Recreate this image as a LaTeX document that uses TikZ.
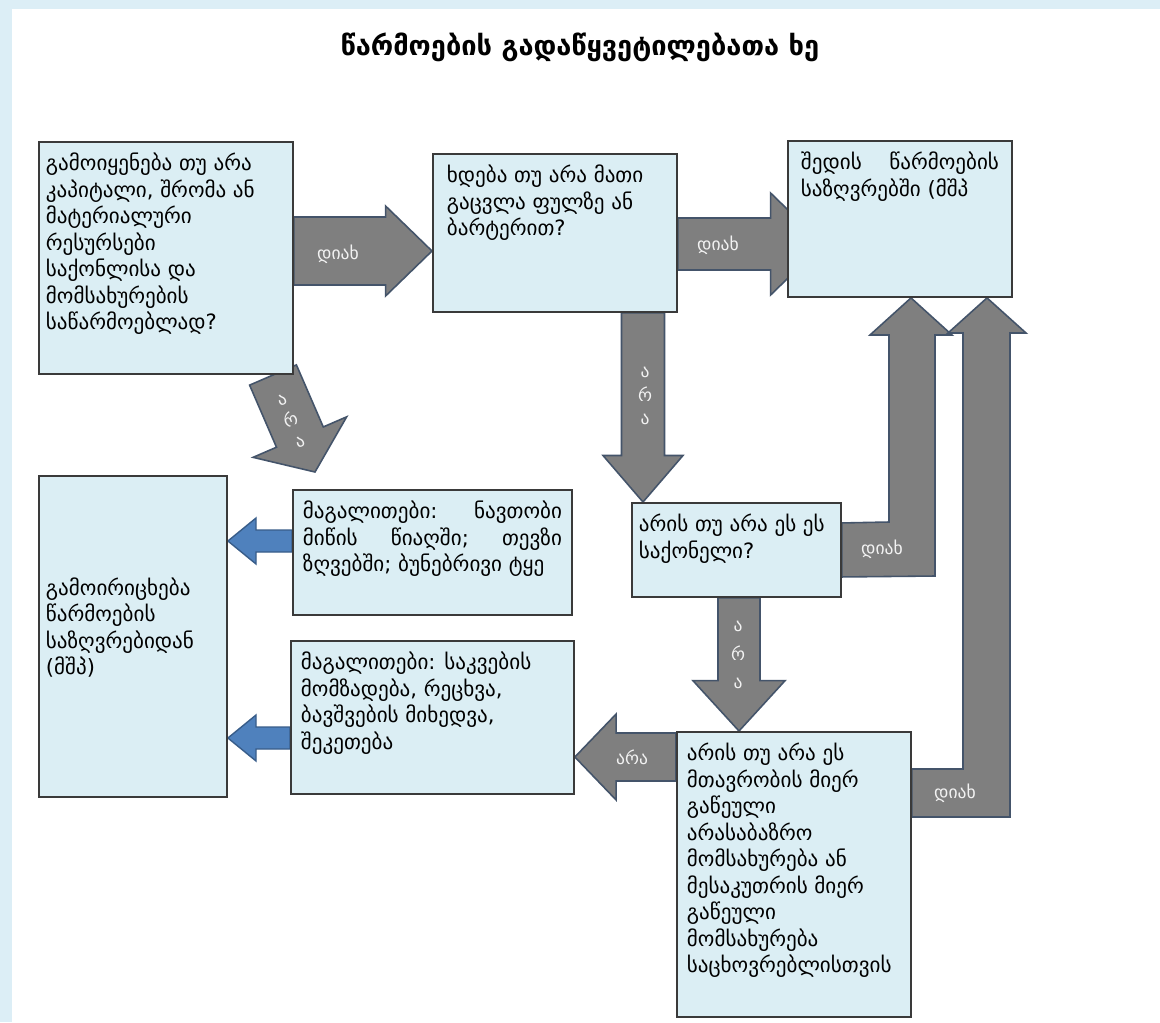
\documentclass[tikz,border=0pt]{standalone}
\usepackage{fontspec}
\newfontfamily\geo{DejaVu Sans}
\usetikzlibrary{calc, backgrounds}

\definecolor{framebg}{HTML}{DCEEF6}
\definecolor{boxfill}{HTML}{DBEEF4}
\definecolor{boxline}{HTML}{3A3A3A}
\definecolor{arrowfill}{HTML}{7F7F7F}
\definecolor{arrowline}{HTML}{44546A}
\definecolor{bluefill}{HTML}{4F81BD}
\definecolor{blueline}{HTML}{385D8A}
\definecolor{labeltext}{HTML}{F2F2F2}

% block arrow: style, from, to, shaft half width, head half width, where the head starts (fraction)
\newcommand{\flowarrow}[6]{%
  \coordinate (fa-h) at ($(#2)!#6!(#3)$);
  \filldraw[#1] ($(#2)!#4!90:(#3)$) -- ($(fa-h)!#4!-90:(#2)$)
    -- ($(fa-h)!#5!-90:(#2)$) -- (#3) -- ($(fa-h)!#5!90:(#2)$)
    -- ($(fa-h)!#4!90:(#2)$) -- ($(#2)!#4!-90:(#3)$) -- cycle;
}
\newcommand{\boxbody}[3]{\parbox[c][#2][t]{#1}{\raggedright #3}}

\begin{document}
\begin{tikzpicture}[x=0.02cm, y=-0.02cm,
    box/.style={draw=boxline, fill=boxfill, line width=1.1pt, anchor=north west,
      inner xsep=0.2cm, inner ysep=0.22cm, font=\geo\fontsize{12}{15.1}\selectfont},
    garrow/.style={fill=arrowfill, draw=arrowline, line width=0.9pt},
    barrow/.style={fill=bluefill, draw=blueline, line width=0.8pt},
    alabel/.style={text=labeltext, font=\geo\fontsize{10}{12}\selectfont, inner sep=0pt, align=center}]
  \useasboundingbox (0,0) rectangle (1160,1022);

  % boxes
  \node[box, inner xsep=0.14cm] (q1) at (38,141) {\boxbody{4.80cm}{4.20cm}{გამოიყენება თუ არა\\კაპიტალი, შრომა ან\\მატერიალური\\რესურსები\\საქონლისა და\\მომსახურების\\საწარმოებლად?}};
  \node[box, inner xsep=0.28cm] (q2) at (432,153) {\boxbody{4.32cm}{2.72cm}{ხდება თუ არა მათი\\გაცვლა ფულზე ან\\ბარტერით?}};
  \node[box, inner xsep=0.26cm] (q3) at (787,140) {\boxbody{3.96cm}{2.68cm}{შედის\hfill წარმოების\\საზღვრებში (მშპ}};
  \node[box] (q4) at (292,489) {\boxbody{5.18cm}{2.06cm}{მაგალითები:\hfill ნავთობი\\მიწის\hfill წიაღში;\hfill თევზი\\ზღვებში; ბუნებრივი ტყე}};
  \node[box, inner xsep=0.14cm] (q5) at (631,502) {\boxbody{3.90cm}{1.44cm}{\mbox{არის თუ არა ეს ეს}\\საქონელი?}};
  \node[box] (q6) at (290,640) {\boxbody{5.26cm}{2.62cm}{მაგალითები: საკვების\\მომზადება, რეცხვა,\\ბავშვების მიხედვა,\\შეკეთება}};
  \node[box] (q7) at (676,731) {\boxbody{4.28cm}{5.26cm}{არის თუ არა ეს\\მთავრობის მიერ\\გაწეული\\არასაბაზრო\\მომსახურება ან\\მესაკუთრის მიერ\\გაწეული\\მომსახურება\\საცხოვრებლისთვის}};
  \node[box, inner xsep=0.14cm] (q8) at (38,475) {\parbox[c][5.98cm][c]{3.48cm}{\raggedright გამოირიცხება\\წარმოების\\საზღვრებიდან\\(მშპ)\vspace*{0.36cm}}};

  \begin{pgfonlayer}{background}
    \fill[framebg] (0,0) rectangle (1160,1022);
    \fill[white] (12,9) rectangle (1160,1022);

    % straight arrows
    \coordinate (a1s) at (q1.east |- 0,251);
    \coordinate (a1t) at (q2.west |- 0,251);
    \flowarrow{garrow}{a1s}{a1t}{0.68cm}{0.9cm}{0.664}
    \coordinate (a2s) at (q2.east |- 0,244);
    \coordinate (a2t) at (823,244);
    \flowarrow{garrow}{a2s}{a2t}{0.52cm}{1.02cm}{0.639}
    \coordinate (a3s) at (q2.south -| 643,0);
    \coordinate (a3t) at (q5.north -| 643,0);
    \flowarrow{garrow}{a3s}{a3t}{0.43cm}{0.8cm}{0.754}
    \coordinate (a4s) at (q5.south -| 739,0);
    \coordinate (a4t) at (q7.north -| 739,0);
    \flowarrow{garrow}{a4s}{a4t}{0.42cm}{0.92cm}{0.622}
    \coordinate (a5s) at (q7.west |- 0,757);
    \coordinate (a5t) at (q6.east |- 0,757);
    \flowarrow{garrow}{a5s}{a5t}{0.48cm}{0.86cm}{0.592}
    \coordinate (a6s) at (273,375);
    \coordinate (a6t) at (315,472);
    \flowarrow{garrow}{a6s}{a6t}{0.51cm}{1.02cm}{0.64}
    \coordinate (b1s) at (q4.west |- 0,541);
    \coordinate (b1t) at (q8.east |- 0,541);
    \flowarrow{barrow}{b1s}{b1t}{0.22cm}{0.46cm}{0.561}
    \coordinate (b2s) at (q6.west |- 0,738);
    \coordinate (b2t) at (q8.east |- 0,738);
    \flowarrow{barrow}{b2s}{b2t}{0.22cm}{0.46cm}{0.547}

    % bent arrows up into q3
    \coordinate (a7s) at (q5.east);
    \filldraw[garrow] ($(a7s)+(0,-27)$) -- (889,522) -- (889,335) -- (870,335)
      -- (q3.south -| 911,0) -- (952,335) -- (935,335) -- (935,576) -- ($(a7s)+(0,27)$) -- cycle;
    \coordinate (a8s) at ($(q7.north east)+(0,62)$);
    \filldraw[garrow] ($(a8s)+(0,-24)$) -- (963,769) -- (963,333) -- (948,333)
      -- (q3.south -| 987,0) -- (1026,333) -- (1010,333) -- (1010,817) -- ($(a8s)+(0,24)$) -- cycle;
  \end{pgfonlayer}

  % arrow labels
  \node[alabel] (l1) at (338,254) {დიახ};
  \node[alabel] (l2) at (718,245) {დიახ};
  \node[alabel, font=\geo\fontsize{10}{13.5}\selectfont] (l3) at (645,396) {ა\\რ\\ა};
  \node[alabel, font=\geo\fontsize{10}{16}\selectfont] (l4) at (738,655) {ა\\რ\\ა};
  \node[alabel] (l5) at (632,757) {არა};
  \node[alabel, rotate=23, font=\geo\fontsize{10}{13}\selectfont] (l6) at (291,421) {ა\\რ\\ა};
  \node[alabel] (l7) at (882,549) {დიახ};
  \node[alabel] (l8) at (955,793) {დიახ};

  \node[font=\geo\bfseries\fontsize{15.5}{19}\selectfont] (title) at (580,47) {წარმოების გადაწყვეტილებათა ხე};
\end{tikzpicture}
\end{document}
